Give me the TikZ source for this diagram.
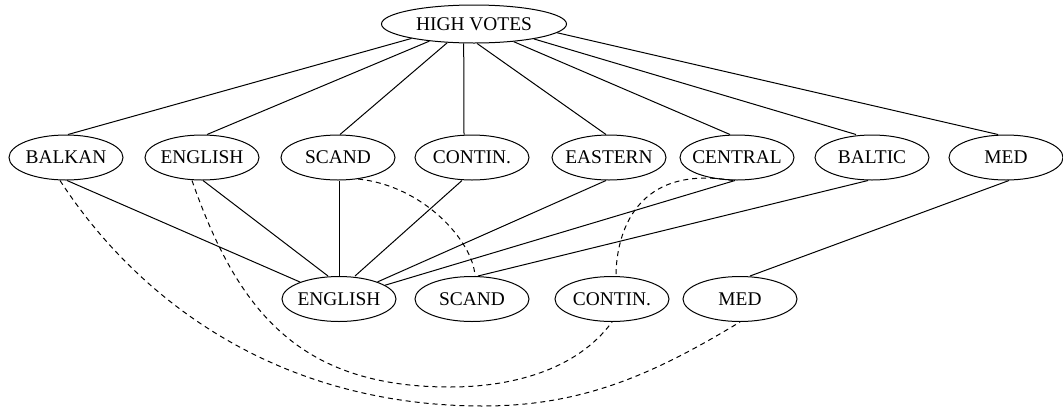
\documentclass[tikz,border=0pt]{standalone}
\usepackage{fontspec}
\setmainfont{Liberation Serif}
\usetikzlibrary{shapes.geometric}
\begin{document}
\begin{tikzpicture}[x=1pt,y=-1pt,
  nd/.style={ellipse, draw, line width=1pt, minimum width=114pt, minimum height=45pt, inner sep=0pt, font=\fontsize{19.4}{23}\selectfont},
  link/.style={line width=1pt},
  dlink/.style={line width=1pt, dash pattern=on 5pt off 4pt}]
\useasboundingbox (0,0) rectangle (1063,408);
% top
\node[nd, minimum width=185pt, minimum height=38pt] (hv) at (474,24) {\makebox[0pt]{HIGH VOTES}};
% middle row
\node[nd] (balkan)  at (66,157.5)   {\makebox[0pt]{BALKAN}};
\node[nd] (english) at (202,157.5)  {\makebox[0pt]{ENGLISH}};
\node[nd] (scand)   at (338,157.5)  {\makebox[0pt]{SCAND}};
\node[nd] (contin)  at (472,157.5)  {\makebox[0pt]{CONTIN.}};
\node[nd] (eastern) at (609,157.5)  {\makebox[0pt]{EASTERN}};
\node[nd] (central) at (737,157.5)  {\makebox[0pt]{CENTRAL}};
\node[nd] (baltic)  at (872,157.5)  {\makebox[0pt]{BALTIC}};
\node[nd] (med)     at (1006,157.5) {\makebox[0pt]{MED}};
% bottom row
\node[nd] (english2) at (339,299) {\makebox[0pt]{ENGLISH}};
\node[nd] (scand2)   at (472,299) {\makebox[0pt]{SCAND}};
\node[nd] (contin2)  at (612,299) {\makebox[0pt]{CONTIN.}};
\node[nd] (med2)     at (740,299) {\makebox[0pt]{MED}};
% top edges
\draw[link] (hv.193.2) -- ([xshift=2pt]balkan.north);
\draw[link] (hv.201.9) -- ([xshift=5pt]english.north);
\draw[link] (hv.215)   -- ([xshift=2pt]scand.north);
\draw[link] (hv.242.1) -- ([xshift=-8pt]contin.north);
\draw[link] (hv.279)   -- ([xshift=-3pt]eastern.north);
\draw[link] (hv.336.2) -- ([xshift=-7pt]central.north);
\draw[link] (hv.346.8) -- ([xshift=-16pt]baltic.north);
\draw[link] (hv.354.2) -- ([xshift=-8pt]med.north);
% middle to bottom
\draw[link] ([xshift=1pt]balkan.south) -- (english2);
\draw[link] ([xshift=1pt]english.south) -- ([xshift=-11pt]english2.north);
\draw[link] ([xshift=1pt]scand.south) -- (english2.north);
\draw[link] ([xshift=-10pt]contin.south) -- ([xshift=16pt]english2.north);
\draw[link] ([xshift=-3pt]eastern.south) -- (english2);
\draw[link] ([xshift=-2pt]central.south) -- (english2);
\draw[link] ([xshift=-4pt]baltic.south) -- ([xshift=6pt]scand2.north);
\draw[link] ([xshift=3pt]med.south) -- ([xshift=10pt]med2.north);
% dashed curves
\coordinate (low1) at (483,406);
\coordinate (low2) at (450,387);
\draw[dlink] ([xshift=-6pt]balkan.south) .. controls (141,305) and (283,406) .. (low1)
  .. controls (583,406) and (654,374) .. (med2.south);
\draw[dlink] ([xshift=-10pt]english.south) .. controls (238,312) and (300,387) .. (low2)
  .. controls (510,387) and (576,371) .. (contin2.south);
\draw[dlink] (scand.313.5) .. controls (423,185.5) and (473,241) .. ([xshift=3pt]scand2.north);
\draw[dlink] ([xshift=-4pt]central.south) .. controls (628,163) and (616,244.5) .. ([xshift=4pt]contin2.north);
\end{tikzpicture}
\end{document}
